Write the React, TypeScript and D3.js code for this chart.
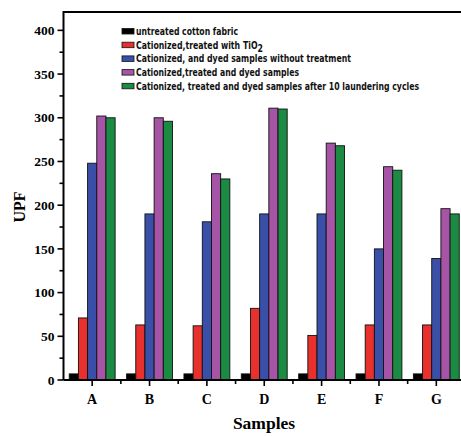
import * as d3 from "d3";
import { useEffect, useRef } from "react";

const samples = ["A", "B", "C", "D", "E", "F", "G"];
const seriesNames = [
  "untreated cotton fabric",
  "Cationized,treated with TiO",
  "Cationized, and dyed samples without treatment",
  "Cationized,treated and dyed samples",
  "Cationized, treated and dyed samples after 10 laundering cycles",
];
const untreated = [7, 7, 7, 7, 7, 7, 7];
const tio2 = [71, 63, 62, 82, 51, 63, 63];
const dyedNoTreat = [248, 190, 181, 190, 190, 150, 139];
const treatedDyed = [302, 300, 236, 311, 271, 244, 196];
const afterWash = [300, 296, 230, 310, 268, 240, 190];
const seriesColors = ["#000000", "#e8302c", "#3a50a8", "#a655a6", "#1b8a42"];
const yTicks = [0, 50, 100, 150, 200, 250, 300, 350, 400];
const legendWidths = [102, 127, 215, 163, 283];

const W = 461;
const H = 436;
const margin = { left: 63.5, right: -4, top: 12, bottom: 56 };

const App = () => {
  const ref = useRef<SVGSVGElement>(null);

  useEffect(() => {
    const svg = d3.select(ref.current);
    svg.selectAll("*").remove();

    const series = [untreated, tio2, dyedNoTreat, treatedDyed, afterWash];
    const x0 = d3
      .scaleBand()
      .domain(samples)
      .range([margin.left, W - margin.right]);
    const groupW = x0.step() * 0.8;
    const x1 = d3
      .scaleBand()
      .domain(d3.range(series.length).map(String))
      .range([-groupW / 2, groupW / 2]);
    const y = d3
      .scaleLinear()
      .domain([0, 421])
      .range([H - margin.bottom, margin.top]);

    const serif = "'Liberation Serif', 'Times New Roman', serif";

    // bars
    const g = svg.append("g");
    samples.forEach((s, i) => {
      const cx = x0(s)! + x0.bandwidth() / 2;
      series.forEach((vals, k) => {
        g.append("rect")
          .attr("x", cx + x1(String(k))!)
          .attr("y", y(vals[i]))
          .attr("width", x1.bandwidth())
          .attr("height", y(0) - y(vals[i]))
          .attr("fill", seriesColors[k])
          .attr("stroke", "#111")
          .attr("stroke-width", 0.9);
      });
    });

    // frame
    const x0Px = margin.left;
    const x1Px = W - margin.right;
    svg
      .append("path")
      .attr(
        "d",
        `M${x0Px},${y(0)}V${margin.top}H${x1Px + 2}M${x0Px},${y(0)}H${x1Px + 2}`
      )
      .attr("fill", "none")
      .attr("stroke", "#000")
      .attr("stroke-width", 2);

    // y ticks
    const yAxis = svg.append("g");
    d3.range(0, 401, 25).forEach((v) => {
      const major = v % 50 === 0;
      yAxis
        .append("line")
        .attr("x1", x0Px)
        .attr("x2", x0Px - (major ? 6 : 4))
        .attr("y1", y(v))
        .attr("y2", y(v))
        .attr("stroke", "#000")
        .attr("stroke-width", 1.6);
    });
    yTicks.forEach((v) => {
      yAxis
        .append("text")
        .attr("x", x0Px - 9)
        .attr("y", y(v))
        .attr("dy", "0.35em")
        .attr("text-anchor", "end")
        .attr("font-family", serif)
        .attr("font-weight", "bold")
        .attr("font-size", 13.5)
        .text(v);
    });

    // x ticks
    const xAxis = svg.append("g");
    samples.forEach((s, i) => {
      const cx = x0(s)! + x0.bandwidth() / 2;
      xAxis
        .append("line")
        .attr("x1", cx)
        .attr("x2", cx)
        .attr("y1", y(0))
        .attr("y2", y(0) + 6)
        .attr("stroke", "#000")
        .attr("stroke-width", 1.6);
      if (i > 0) {
        xAxis
          .append("line")
          .attr("x1", x0(s)!)
          .attr("x2", x0(s)!)
          .attr("y1", y(0))
          .attr("y2", y(0) + 4)
          .attr("stroke", "#000")
          .attr("stroke-width", 1.6);
      }
      xAxis
        .append("text")
        .attr("x", cx)
        .attr("y", y(0) + 24)
        .attr("text-anchor", "middle")
        .attr("font-family", serif)
        .attr("font-weight", "bold")
        .attr("font-size", 14)
        .text(s);
    });

    // axis titles
    svg
      .append("text")
      .attr("x", 264)
      .attr("y", 429)
      .attr("text-anchor", "middle")
      .attr("font-family", serif)
      .attr("font-weight", "bold")
      .attr("font-size", 17.5)
      .text("Samples");
    svg
      .append("text")
      .attr("transform", "translate(25,207) rotate(-90)")
      .attr("text-anchor", "middle")
      .attr("font-family", serif)
      .attr("font-weight", "bold")
      .attr("font-size", 16)
      .text("UPF");

    // legend
    const legend = svg.append("g");
    seriesNames.forEach((name, k) => {
      const ry = 31 + k * 13.7;
      legend
        .append("rect")
        .attr("x", 122)
        .attr("y", ry - 2.5)
        .attr("width", 12)
        .attr("height", 5.5)
        .attr("fill", seriesColors[k])
        .attr("stroke", "#111")
        .attr("stroke-width", 0.8);
      const t = legend
        .append("text")
        .attr("x", 136)
        .attr("y", ry + 3.8)
        .attr("font-family", "'DejaVu Sans', sans-serif")
        .attr("font-weight", "bold")
        .attr("font-size", 10.5)
        .attr("textLength", legendWidths[k])
        .attr("lengthAdjust", "spacingAndGlyphs")
        .attr("fill", "#111");
      t.append("tspan").text(name);
      if (k === 1) {
        t.append("tspan").attr("dy", 3).text("2");
      }
    });
  }, []);

  return (
    <svg
      ref={ref}
      width={W}
      height={H}
      style={{ position: "absolute", left: 0, top: 0, display: "block" }}
    />
  );
};

export default App;
